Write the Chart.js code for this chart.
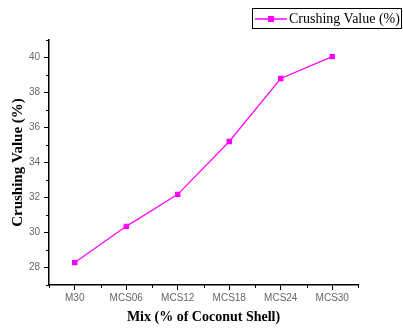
<!DOCTYPE html>
<html>
<head>
<meta charset="utf-8">
<script src="https://cdn.jsdelivr.net/npm/chart.js@4.4.0/dist/chart.umd.min.js"></script>
<style>
  html, body { margin: 0; padding: 0; background: #fff; }
  #wrap { position: relative; width: 403px; height: 329px; overflow: hidden; }
  #legend {
    position: absolute; left: 252px; top: 8px; width: 148px; height: 19px;
    border: 1px solid #000; box-sizing: content-box;
    font: 14px "Liberation Serif", "Times New Roman", serif; color: #000;
    display: flex; align-items: center; white-space: nowrap; overflow: hidden;
  }
  #legend canvas { margin: 0 2px 0 2px; }
</style>
</head>
<body>
<div id="wrap">
  <canvas id="chart" width="403" height="329"></canvas>
  <div id="legend"><canvas id="legend-key" width="32" height="10"></canvas><span id="legend-text"></span></div>
</div>
<script>
const categories = ["M30", "MCS06", "MCS12", "MCS18", "MCS24", "MCS30"];
const crushingValue = [28.28, 30.35, 32.18, 35.2, 38.8, 40.05];
const yTicks = [28, 30, 32, 34, 36, 38, 40];
const seriesLabel = "Crushing Value (%)";
const LINE = "#ff00ff";

// minor ticks halfway between the major ones, drawn from the scales
const minorTicks = {
  id: "minorTicks",
  afterDraw(chart) {
    const { ctx } = chart;
    const x = chart.scales.x, y = chart.scales.y;
    ctx.save();
    ctx.strokeStyle = "#000";
    ctx.lineWidth = 1;
    ctx.beginPath();
    for (let i = 0; i <= categories.length; i++) {
      const px = Math.round(x.getPixelForValue(i - 0.5)) + 0.5;
      ctx.moveTo(px, x.top);
      ctx.lineTo(px, x.top + 3);
    }
    for (let i = 0; i <= yTicks.length; i++) {
      const v = yTicks[0] - 1 + i * 2;
      const py = Math.round(y.getPixelForValue(v)) + 0.5;
      ctx.moveTo(y.right, py);
      ctx.lineTo(y.right - 3, py);
    }
    ctx.stroke();
    ctx.restore();
  },
};

new Chart(document.getElementById("chart"), {
  type: "line",
  data: {
    labels: categories,
    datasets: [{
      label: seriesLabel,
      data: crushingValue,
      borderColor: LINE,
      backgroundColor: LINE,
      borderWidth: 1.2,
      pointStyle: "rect",
      pointRadius: 3,
      tension: 0,
    }],
  },
  options: {
    responsive: false,
    animation: false,
    layout: { padding: { top: 40, right: 45, left: 0, bottom: 0 } },
    plugins: { legend: { display: false }, tooltip: { enabled: false } },
    scales: {
      x: {
        offset: true,
        grid: { display: true, drawOnChartArea: false, offset: false, tickLength: 5, color: "#000" },
        border: { display: true, color: "#000", width: 1.5 },
        ticks: { color: "#666", font: { family: "Liberation Sans, Arial", size: 10 }, padding: 2, maxRotation: 0 },
        title: {
          display: true, text: "Mix (% of Coconut Shell)", color: "#000",
          font: { family: "Liberation Serif, Times New Roman", size: 14, weight: "bold" },
          padding: { top: 0, bottom: 3 },
        },
        afterFit(scale) { scale.height = 44; },
      },
      y: {
        min: 27,
        max: 41,
        afterBuildTicks(scale) { scale.ticks = yTicks.map((v) => ({ value: v })); },
        grid: { display: true, drawOnChartArea: false, tickLength: 5, color: "#000" },
        border: { display: true, color: "#000", width: 1.5 },
        ticks: { color: "#666", font: { family: "Liberation Sans, Arial", size: 10 }, padding: 4 },
        title: {
          display: true, text: "Crushing Value (%)", color: "#000",
          font: { family: "Liberation Serif, Times New Roman", size: 15, weight: "bold" },
          padding: { top: 9, bottom: 0 },
        },
        afterFit(scale) { scale.width = 49; },
      },
    },
  },
  plugins: [minorTicks],
});

// legend key: line with square marker
document.getElementById("legend-text").textContent = seriesLabel;
const k = document.getElementById("legend-key").getContext("2d");
k.strokeStyle = LINE;
k.lineWidth = 1.5;
k.beginPath();
k.moveTo(0, 5);
k.lineTo(32, 5);
k.stroke();
k.fillStyle = LINE;
k.fillRect(13, 2, 6, 6);
</script>
</body>
</html>
